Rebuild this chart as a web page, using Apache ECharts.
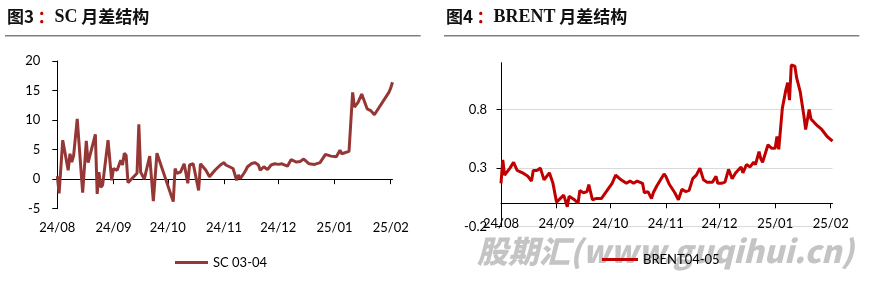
<!DOCTYPE html>
<html><head><meta charset="utf-8">
<script src="https://cdn.jsdelivr.net/npm/echarts@6/dist/echarts.min.js"></script>
<style>html,body{margin:0;padding:0;background:#fff}#c{width:878px;height:284px}</style>
</head><body><div id="c"></div>
<script>
// ---- data ----
const tickDates = ['2024-08-01','2024-09-01','2024-10-01','2024-11-01','2024-12-01','2025-01-01','2025-02-01'];
const tickLabels = ['24/08','24/09','24/10','24/11','24/12','25/01','25/02'];
const scTicks = [-5, 0, 5, 10, 15, 20];
const brentTicks = [-0.2, 0.3, 0.8];

const scDates = ['2024-08-01','2024-08-02','2024-08-04','2024-08-07','2024-08-08','2024-08-09','2024-08-10','2024-08-12','2024-08-15','2024-08-17',
'2024-08-18','2024-08-22','2024-08-23','2024-08-24','2024-08-25','2024-08-26','2024-08-29','2024-08-31','2024-09-01','2024-09-03',
'2024-09-05','2024-09-06','2024-09-07','2024-09-08','2024-09-09','2024-09-14','2024-09-15','2024-09-16','2024-09-18','2024-09-21',
'2024-09-23','2024-09-25','2024-10-04','2024-10-05','2024-10-06','2024-10-08','2024-10-09','2024-10-10','2024-10-11','2024-10-12',
'2024-10-13','2024-10-15','2024-10-16','2024-10-18','2024-10-19','2024-10-20','2024-10-22','2024-10-24','2024-10-25','2024-10-27',
'2024-10-30','2024-11-01','2024-11-02','2024-11-03','2024-11-04','2024-11-06','2024-11-08','2024-11-09','2024-11-10','2024-11-12',
'2024-11-13','2024-11-14','2024-11-16','2024-11-17','2024-11-18','2024-11-20','2024-11-21','2024-11-23','2024-11-25','2024-11-27',
'2024-11-29','2024-12-01','2024-12-03','2024-12-06','2024-12-08','2024-12-11','2024-12-13','2024-12-15','2024-12-18','2024-12-21',
'2024-12-24','2024-12-25','2024-12-27','2024-12-28','2024-12-30','2025-01-02','2025-01-04','2025-01-05','2025-01-09','2025-01-11',
'2025-01-12','2025-01-14','2025-01-16','2025-01-19','2025-01-21','2025-01-23','2025-01-31','2025-02-01','2025-02-02'];
const scValues = [0.5,-2.4,6.6,1.5,4.3,2.9,4.0,10.2,-2.3,6.5,
2.8,7.6,-2.5,1.2,-1.4,-1.0,6.6,-0.2,1.8,1.5,
3.2,2.4,4.4,4.0,-0.6,1.0,9.3,1.2,0.0,3.9,
-3.7,4.4,-3.8,1.8,1.0,1.2,1.5,2.6,1.0,-0.7,
2.4,2.6,2.4,-1.9,2.6,2.8,1.5,0.4,0.7,1.5,
2.4,2.8,2.4,2.6,2.1,1.8,-0.2,0.7,0.1,1.0,
1.5,2.1,2.6,2.9,2.8,2.4,1.5,2.1,1.6,2.4,
2.6,2.5,2.6,2.2,3.3,2.9,3.0,3.4,2.6,2.5,
2.8,2.8,4.2,3.9,3.9,3.8,4.9,4.3,4.7,14.7,
12.2,13.0,14.4,11.9,11.6,10.9,14.7,15.4,16.4];

const brentDates = ['2024-08-01','2024-08-02','2024-08-03','2024-08-06','2024-08-08','2024-08-10','2024-08-13','2024-08-16','2024-08-18','2024-08-19',
'2024-08-21','2024-08-22','2024-08-23','2024-08-25','2024-08-28','2024-08-30','2024-09-01','2024-09-05','2024-09-06','2024-09-07',
'2024-09-08','2024-09-11','2024-09-13','2024-09-14','2024-09-16','2024-09-18','2024-09-19','2024-09-21','2024-09-23','2024-09-26',
'2024-10-02','2024-10-04','2024-10-07','2024-10-08','2024-10-10','2024-10-12','2024-10-14','2024-10-16','2024-10-17','2024-10-19',
'2024-10-20','2024-10-22','2024-10-24','2024-10-25','2024-10-27','2024-10-28','2024-10-31','2024-11-01','2024-11-03','2024-11-06',
'2024-11-08','2024-11-10','2024-11-12','2024-11-14','2024-11-15','2024-11-16','2024-11-18','2024-11-20','2024-11-22','2024-11-24',
'2024-11-27','2024-11-29','2024-11-30','2024-12-02','2024-12-04','2024-12-06','2024-12-08','2024-12-10','2024-12-13','2024-12-14',
'2024-12-16','2024-12-18','2024-12-20','2024-12-21','2024-12-23','2024-12-24','2024-12-25','2024-12-28','2024-12-30','2025-01-01',
'2025-01-02','2025-01-03','2025-01-05','2025-01-07','2025-01-08','2025-01-09','2025-01-10','2025-01-12','2025-01-13','2025-01-15',
'2025-01-17','2025-01-18','2025-01-20','2025-01-21','2025-01-24','2025-01-27','2025-01-30','2025-02-02'];
const brentValues = [0.17,0.37,0.24,0.30,0.35,0.28,0.26,0.23,0.19,0.28,
0.28,0.28,0.30,0.20,0.26,0.17,0.01,0.07,0.06,-0.03,
0.06,0.03,0.00,0.11,0.09,0.10,0.16,0.03,0.04,0.04,
0.17,0.24,0.20,0.21,0.17,0.19,0.17,0.19,0.18,0.17,
0.09,0.10,0.04,0.09,0.15,0.14,0.25,0.23,0.16,0.09,
0.03,0.12,0.10,0.11,0.11,0.21,0.24,0.30,0.20,0.18,
0.18,0.23,0.17,0.17,0.18,0.29,0.21,0.26,0.31,0.26,
0.33,0.31,0.35,0.33,0.44,0.38,0.35,0.50,0.47,0.47,
0.57,0.46,0.81,0.97,1.03,0.88,1.18,1.17,1.07,0.95,
0.75,0.63,0.80,0.72,0.67,0.63,0.57,0.53];

// ---- helpers ----
function ts(s){ const p = s.split('-').map(Number); return Date.UTC(p[0], p[1]-1, p[2]); }
const tickTs = tickDates.map(ts);
function fmtTick(v){ const i = tickTs.indexOf(v); return i >= 0 ? tickLabels[i] : ''; }
const xMin = ts('2024-08-01'), xMax = ts('2025-02-02');
const sc = scDates.map((d,i)=>[ts(d), scValues[i]]);
const brent = brentDates.map((d,i)=>[ts(d), brentValues[i]]);

const labelFont = {fontFamily:'Lato', fontSize:13, color:'#000'};
const chart = echarts.init(document.getElementById('c'), null, {renderer:'canvas'});

function xAxisCfg(grid, margin){
  return {
    type:'value', gridIndex:grid, min:xMin, max:xMax, scale:true,
    axisLine:{show:true, onZero:true, lineStyle:{color:'#000', width:1}},
    axisTick:{show:true, length:5, customValues:tickTs, lineStyle:{color:'#000'}},
    axisLabel:Object.assign({customValues:tickTs, margin:margin, formatter:fmtTick}, labelFont),
    splitLine:{show:false}, minorTick:{show:false}
  };
}

const titleRich = {
  a:{fontFamily:'Noto Sans CJK SC', fontSize:17, fontWeight:'bold', fill:'#111'},
  r:{fontFamily:'Noto Sans CJK SC', fontSize:17, fontWeight:'bold', fill:'#c00000'},
  b:{fontFamily:'Liberation Serif', fontSize:18, fontWeight:'bold', fill:'#111'}
};

chart.setOption({
  animation:false,
  backgroundColor:'#fff',
  grid:[
    {left:57.3, right:485.5, top:61, bottom:75.3},
    {left:501, right:45.5, top:62.7, bottom:57.3}
  ],
  xAxis:[ xAxisCfg(0, 13), xAxisCfg(1, -9) ],
  yAxis:[
    {type:'value', gridIndex:0, min:-5, max:20, interval:5,
     axisLine:{show:true, onZero:false, lineStyle:{color:'#000', width:1}},
     axisTick:{show:true, length:5, customValues:scTicks, lineStyle:{color:'#000'}},
     axisLabel:Object.assign({customValues:scTicks, margin:17}, labelFont),
     splitLine:{show:false}},
    {type:'value', gridIndex:1, min:-0.2, max:1.2,
     axisLine:{show:true, onZero:false, lineStyle:{color:'#000', width:1}},
     axisTick:{show:true, length:4.5, customValues:brentTicks, lineStyle:{color:'#000'}},
     axisLabel:Object.assign({customValues:brentTicks, margin:14, formatter:v=>v.toFixed(1)}, labelFont),
     splitLine:{show:true, lineStyle:{color:'#d9d9d9', width:1}}}
  ],
  legend:[
    {data:[{name:'SC 03-04', icon:'rect'}], left:170, top:251, itemWidth:33, itemHeight:3,
     textStyle:labelFont},
    {data:[{name:'BRENT04-05', icon:'rect'}], left:597, top:248, itemWidth:36, itemHeight:3,
     textStyle:labelFont}
  ],
  series:[
    {name:'SC 03-04', type:'line', xAxisIndex:0, yAxisIndex:0, data:sc, showSymbol:false, symbol:'none',
     color:'#953735', lineStyle:{color:'#953735', width:3}},
    {name:'BRENT04-05', type:'line', xAxisIndex:1, yAxisIndex:1, data:brent, showSymbol:false, symbol:'none',
     color:'#c00000', lineStyle:{color:'#c00000', width:3}}
  ],
  graphic:[
    {type:'text', left:477, top:236, z:-10, silent:true,
     style:{text:'股期汇(www.guqihui.cn)', fontFamily:'Noto Sans CJK SC', fontSize:31, fontWeight:900,
            fontStyle:'italic', fill:'#c4c4c4'}},
    {type:'text', x:7, y:17, style:{text:'{a|图3}{r|\u2009：}{b|SC}{a| 月差结构}', verticalAlign:'middle', rich:titleRich}},
    {type:'text', x:446, y:17, style:{text:'{a|图4}{r|\u2009：}{b|BRENT}{a| 月差结构}', verticalAlign:'middle', rich:titleRich}},
    {type:'line', shape:{x1:5, y1:35.7, x2:420.7, y2:35.7}, style:{stroke:'#808080', lineWidth:1.5}},
    {type:'line', shape:{x1:444, y1:35.7, x2:859.3, y2:35.7}, style:{stroke:'#808080', lineWidth:1.5}}
  ]
});
</script></body></html>
